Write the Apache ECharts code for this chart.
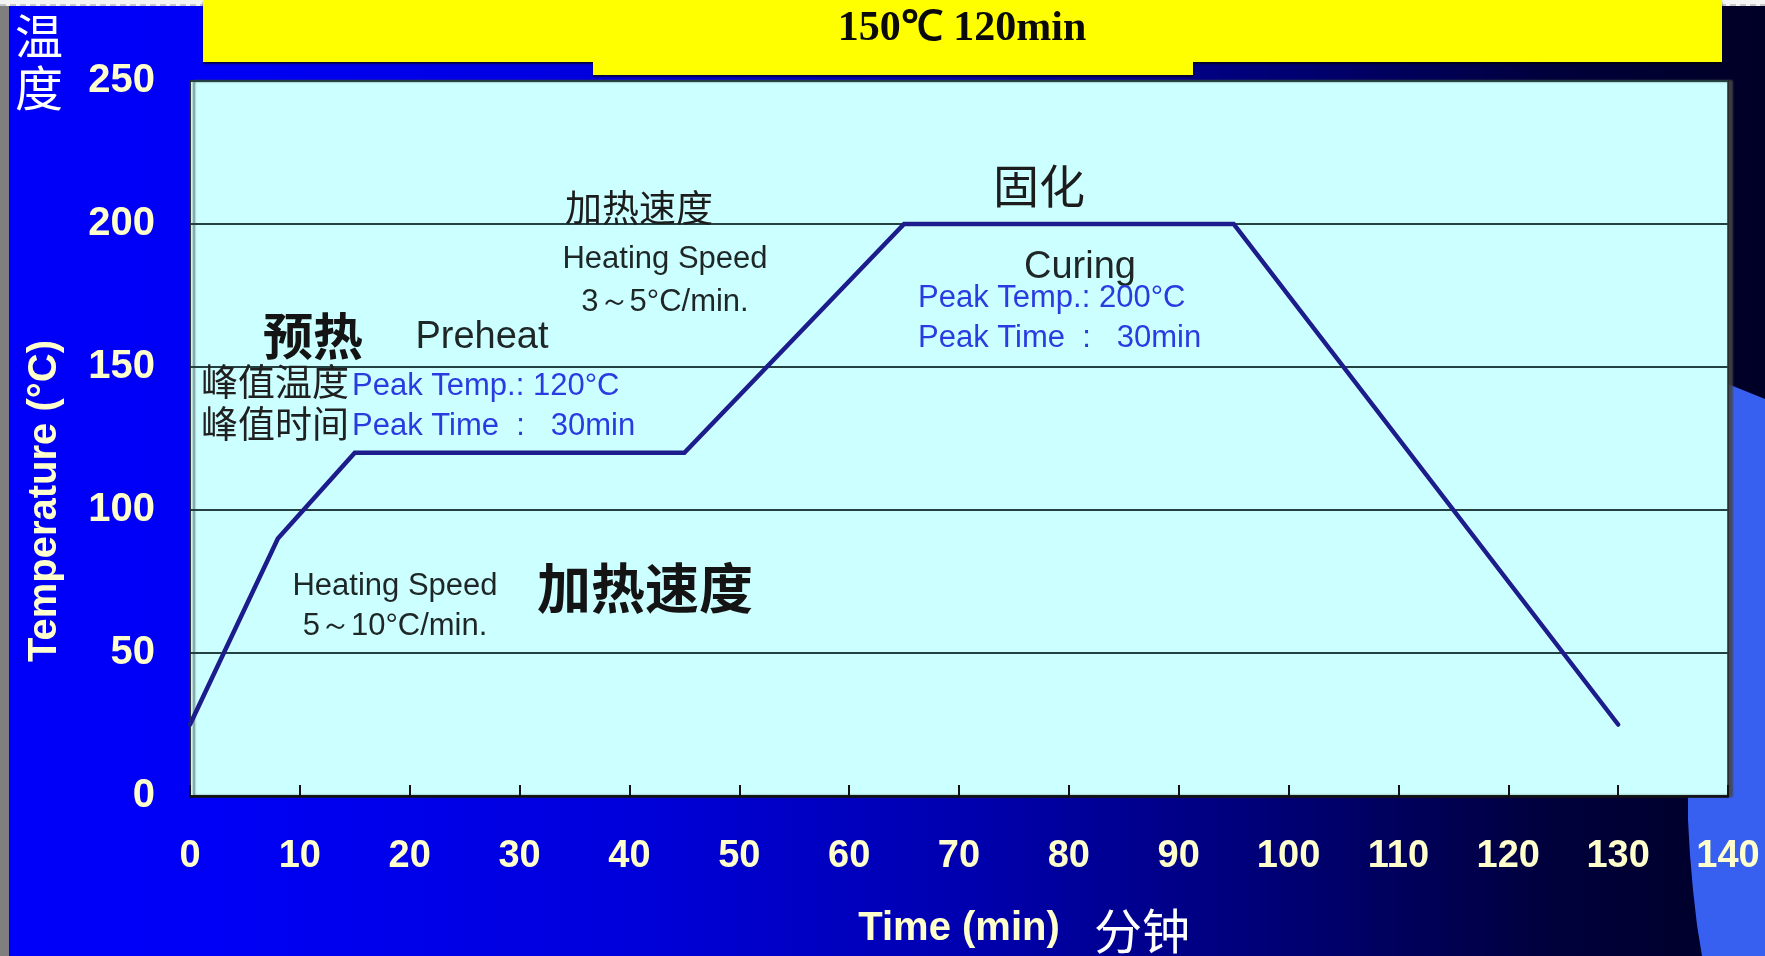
<!DOCTYPE html>
<html>
<head>
<meta charset="utf-8">
<title>固化曲线</title>
<script src="https://cdn.jsdelivr.net/npm/echarts@6/dist/echarts.min.js"></script>
<style>
  html, body { margin: 0; padding: 0; background: #0000f8; overflow: hidden; }
  #chart { width: 1765px; height: 956px; }
</style>
</head>
<body>
<div id="chart"></div>
<script>
// Cure profile: time (min) vs. temperature (°C)
const timeMin = [0, 8, 15, 45, 65, 95, 130];
const tempC   = [25, 90, 120, 120, 200, 200, 25];

// Axis ticks
const timeTicks = [0, 10, 20, 30, 40, 50, 60, 70, 80, 90, 100, 110, 120, 130, 140];
const tempTicks = [0, 50, 100, 150, 200, 250];

const SANS = "'Liberation Sans', Arial, sans-serif";
const CJK = "'Noto Sans CJK SC', sans-serif";
const SERIF = "'Liberation Serif', 'Times New Roman', serif";
const CREAM = '#ffffcc';
const INK = '#1e2626';
const BLUE_TXT = '#2a3ce0';

function label(text, x, y, size, o) {
  o = o || {};
  const align = o.align || 'center';
  return {
    type: 'text', x: x, y: y, z: o.z || 60,
    rotation: o.rotation || 0,
    style: {
      text: text,
      font: (o.weight || 'normal') + ' ' + size + 'px ' + (o.family || SANS),
      fill: o.color || INK,
      align: align, verticalAlign: 'middle',
      textAlign: align, textVerticalAlign: 'middle',
      lineHeight: o.lineHeight
    }
  };
}

const chart = echarts.init(document.getElementById('chart'), null, { renderer: 'canvas' });

const graphics = [
  // slide background
  {
    type: 'rect', z: -20, shape: { x: 0, y: 0, width: 1765, height: 956 },
    style: {
      fill: new echarts.graphic.LinearGradient(0, 0, 1, 0, [
        { offset: 0, color: '#0000fa' },
        { offset: 0.12, color: '#0000f6' },
        { offset: 0.35, color: '#0000dc' },
        { offset: 0.55, color: '#0000ae' },
        { offset: 0.75, color: '#00006c' },
        { offset: 0.88, color: '#00003c' },
        { offset: 1, color: '#000026' }
      ])
    }
  },
  // light blue sweep at the lower right
  {
    type: 'polygon', z: -15,
    shape: {
      points: [[1690, 384], [1728, 384], [1765, 399], [1765, 956], [1702, 956],
               [1697, 925], [1693, 890], [1690, 855], [1688, 820], [1688, 795],
               [1688, 700], [1690, 500]]
    },
    style: { fill: '#3760f0' }
  },
  // grey strip on the left edge
  { type: 'rect', z: -10, shape: { x: 0, y: 0, width: 9, height: 956 }, style: { fill: '#7f7f7f' } },
  // thin white strip along the top
  { type: 'rect', z: -10, shape: { x: 0, y: 0, width: 1765, height: 6 }, style: { fill: '#f4f4f4' } },
  {
    type: 'line', z: -9, shape: { x1: 0, y1: 5, x2: 1765, y2: 5 },
    style: { stroke: '#9a9a9a', lineWidth: 1, lineDash: [6, 4] }
  },
  // yellow title banner
  {
    type: 'polygon', z: -5,
    shape: {
      points: [[203, 0], [1722, 0], [1722, 62], [1193, 62], [1193, 75],
               [593, 75], [593, 62], [203, 62]]
    },
    style: {
      fill: '#ffff00', shadowColor: 'rgba(0,0,0,0.7)', shadowBlur: 2, shadowOffsetY: 2
    }
  },
  label('150℃ 120min', 962, 29, 42, { weight: 'bold', family: SERIF, color: '#0a0a0a' }),

  // axis titles
  label('温\n度', 39, 62, 48, { family: CJK, color: '#ffffff', lineHeight: 52 }),
  label('Temperature (°C)', 45, 501, 40, { weight: 'bold', color: CREAM, rotation: Math.PI / 2 }),
  label('Time (min)', 959, 929, 40, { weight: 'bold', color: CREAM }),
  label('分钟', 1142, 931, 48, { family: CJK, color: '#ffffff' }),

  // preheat stage
  label('预热', 313, 336, 50, { weight: 'bold', family: CJK, color: '#141414' }),
  label('Preheat', 482, 338, 38),
  label('峰值温度', 201, 382, 37, { family: CJK, color: '#202020', align: 'left' }),
  label('峰值时间', 201, 424, 37, { family: CJK, color: '#202020', align: 'left' }),
  label('Peak Temp.: 120°C', 352, 386, 31, { color: BLUE_TXT, align: 'left' }),
  label('Peak Time  :   30min', 352, 426, 31, { color: BLUE_TXT, align: 'left' }),

  // first ramp
  label('Heating Speed', 395, 586, 31),
  label('5～10°C/min.', 395, 626, 31),
  label('加热速度', 645, 588, 54, { weight: 'bold', family: CJK, color: '#141414' }),

  // second ramp
  label('加热速度', 639, 208, 37, { family: CJK, color: '#1c1c1c' }),
  label('Heating Speed', 665, 259, 31),
  label('3～5°C/min.', 665, 302, 31),

  // curing stage
  label('固化', 1039, 186, 46, { family: CJK, color: '#1c1c1c' }),
  label('Curing', 1080, 268, 38),
  label('Peak Temp.: 200°C', 918, 298, 31, { color: BLUE_TXT, align: 'left' }),
  label('Peak Time  :   30min', 918, 338, 31, { color: BLUE_TXT, align: 'left' })
];

const option = {
  animation: false,
  backgroundColor: 'transparent',
  grid: {
    left: 190, right: 37, top: 81, bottom: 160,
    show: true,
    backgroundColor: '#ccffff',
    borderColor: '#262626',
    borderWidth: 1.5,
    shadowColor: 'rgba(70,70,70,0.9)',
    shadowBlur: 2,
    shadowOffsetX: 4,
    shadowOffsetY: 0
  },
  xAxis: {
    type: 'value',
    min: timeTicks[0],
    max: timeTicks[timeTicks.length - 1],
    interval: timeTicks[1] - timeTicks[0],
    axisLine: { show: true, onZero: false, lineStyle: { color: '#111111', width: 2.5 } },
    axisTick: { show: true, inside: true, length: 11, lineStyle: { color: '#111111', width: 2 } },
    splitLine: { show: false },
    axisLabel: {
      margin: 42, color: CREAM, fontSize: 38, fontWeight: 'bold', fontFamily: SANS,
      showMinLabel: true, showMaxLabel: true
    }
  },
  yAxis: {
    type: 'value',
    min: tempTicks[0],
    max: tempTicks[tempTicks.length - 1],
    interval: tempTicks[1] - tempTicks[0],
    axisLine: { show: true, lineStyle: { color: '#222222', width: 1.5 } },
    axisTick: { show: false },
    splitLine: { show: true, lineStyle: { color: '#244040', width: 2 } },
    axisLabel: {
      margin: 35, color: CREAM, fontSize: 40, fontWeight: 'bold', fontFamily: SANS
    }
  },
  graphic: { elements: graphics },
  series: [{
    type: 'line',
    data: timeMin.map((t, i) => [t, tempC[i]]),
    symbol: 'none',
    z: 5,
    lineStyle: { color: '#1c1c8c', width: 4.5, join: 'miter', cap: 'round' }
  }]
};

chart.setOption(option);
</script>
</body>
</html>
